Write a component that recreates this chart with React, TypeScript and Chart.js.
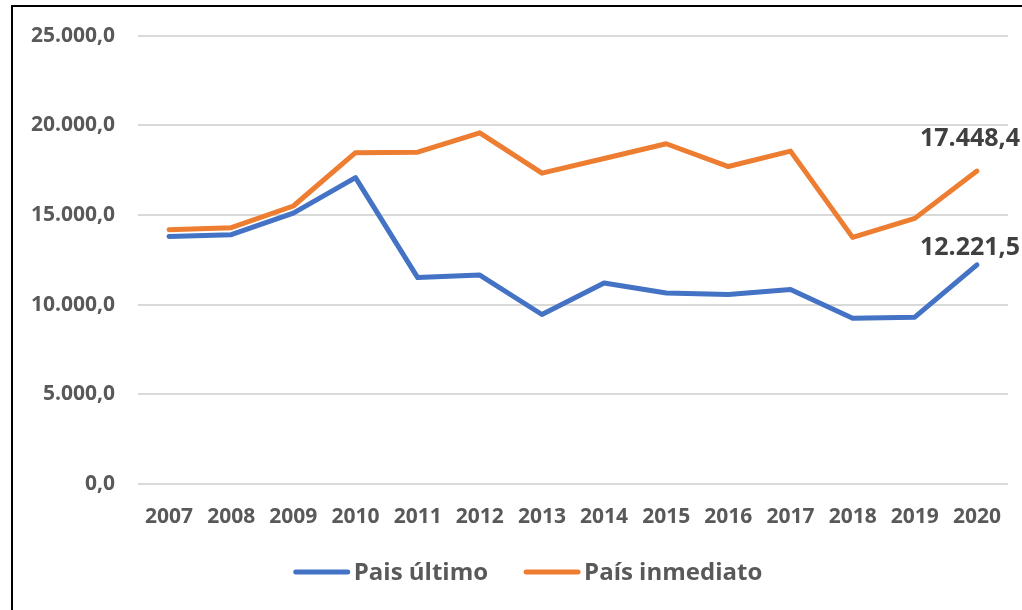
import React, { useEffect, useRef } from "react";
import { Chart, registerables } from "chart.js";

Chart.register(...registerables);

const years = ["2007", "2008", "2009", "2010", "2011", "2012", "2013", "2014", "2015", "2016", "2017", "2018", "2019", "2020"];
const paisUltimo = [13800, 13900, 15100, 17080, 11510, 11650, 9450, 11210, 10650, 10560, 10840, 9240, 9300, 12221.5];
const paisInmediato = [14180, 14290, 15500, 18470, 18500, 19580, 17330, 18150, 18970, 17700, 18560, 13750, 14810, 17448.4];
const seriesNames = ["Pais último", "País inmediato"];
const seriesColors = ["#4472C4", "#ED7D31"];
const labeledIndex = 13;

const FONT = "'Open Sans', sans-serif";

const fmt = (v: number) =>
  v.toLocaleString("de-DE", { minimumFractionDigits: 1, maximumFractionDigits: 1 });

const endLabels = {
  id: "endLabels",
  afterDatasetsDraw(chart: any) {
    const ctx = chart.ctx;
    const offsets = [
      [-7, -17],
      [-7, -32],
    ];
    ctx.save();
    ctx.font = `bold 25px ${FONT}`;
    ctx.fillStyle = "#404040";
    ctx.textAlign = "center";
    ctx.textBaseline = "middle";
    chart.data.datasets.forEach((ds: any, i: number) => {
      const meta = chart.getDatasetMeta(i);
      const pt = meta.data[labeledIndex];
      if (!pt) return;
      ctx.fillText(fmt(ds.data[labeledIndex]), pt.x + offsets[i][0], pt.y + offsets[i][1]);
    });
    ctx.restore();
  },
};

const customLegend = {
  id: "customLegend",
  afterDraw(chart: any) {
    const ctx = chart.ctx;
    ctx.save();
    ctx.font = `bold 24px ${FONT}`;
    ctx.textBaseline = "middle";
    const lineLen = 56;
    const gap = 4;
    const between = 36;
    const y = 572;
    const widths = chart.data.datasets.map((ds: any) => lineLen + gap + ctx.measureText(ds.label).width);
    const total = widths.reduce((a: number, b: number) => a + b, 0) + between * (widths.length - 1);
    let x = (chart.width - total) / 2 + 17;
    chart.data.datasets.forEach((ds: any, i: number) => {
      ctx.strokeStyle = ds.borderColor;
      ctx.lineWidth = 5;
      ctx.lineCap = "round";
      ctx.beginPath();
      ctx.moveTo(x + 2, y);
      ctx.lineTo(x + lineLen - 2, y);
      ctx.stroke();
      ctx.fillStyle = "#595959";
      ctx.fillText(ds.label, x + lineLen + gap, y + 1);
      x += widths[i] + between;
    });
    ctx.restore();
  },
};

export default function App() {
  const ref = useRef<HTMLCanvasElement>(null);
  useEffect(() => {
    if (!ref.current) return;
    const chart = new Chart(ref.current, {
      type: "line",
      data: {
        labels: years,
        datasets: [
          {
            label: seriesNames[0],
            data: paisUltimo,
            borderColor: seriesColors[0],
            backgroundColor: seriesColors[0],
            borderWidth: 5,
            pointRadius: 0,
            tension: 0,
            borderCapStyle: "round",
            borderJoinStyle: "round",
          },
          {
            label: seriesNames[1],
            data: paisInmediato,
            borderColor: seriesColors[1],
            backgroundColor: seriesColors[1],
            borderWidth: 5,
            pointRadius: 0,
            tension: 0,
            borderCapStyle: "round",
            borderJoinStyle: "round",
          },
        ],
      },
      options: {
        animation: false,
        responsive: false,
        layout: { padding: { top: 35, right: 14, bottom: 66, left: 0 } },
        plugins: {
          legend: { display: false },
          tooltip: { enabled: false },
        },
        scales: {
          x: {
            offset: true,
            grid: { display: false, drawTicks: false },
            border: { display: false },
            ticks: {
              color: "#595959",
              font: { family: FONT, size: 21, weight: "bold" },
              padding: 20,
              maxRotation: 0,
              autoSkip: false,
            },
            afterFit: (s: any) => {
              s.height = 60;
            },
          },
          y: {
            min: 0,
            max: 25000,
            grid: { color: "#D9D9D9", lineWidth: 2, drawTicks: false },
            border: { display: false },
            ticks: {
              stepSize: 5000,
              color: "#595959",
              font: { family: FONT, size: 21, weight: "bold" },
              padding: 23,
              callback: (v: any) => fmt(Number(v)),
            },
            afterFit: (s: any) => {
              s.width = 138;
            },
          },
        },
      },
      plugins: [endLabels, customLegend],
    });
    return () => chart.destroy();
  }, []);

  return (
    <div style={{ position: "fixed", left: 0, top: 0, width: 1022, height: 610, overflow: "hidden", background: "#fff" }}>
      <canvas ref={ref} width={1022} height={610} style={{ position: "absolute", left: 0, top: 0 }} />
      <div
        style={{
          position: "absolute",
          left: 11,
          top: 5,
          width: 1100,
          height: 700,
          border: "2px solid #000",
          pointerEvents: "none",
        }}
      />
    </div>
  );
}
